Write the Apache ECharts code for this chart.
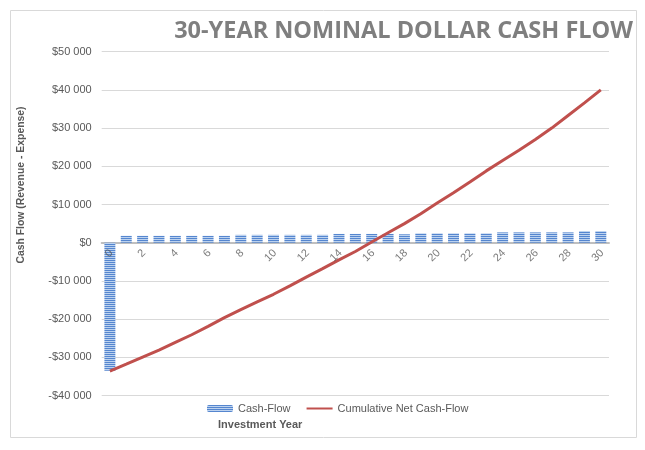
<!DOCTYPE html>
<html><head><meta charset="utf-8">
<script src="https://cdn.jsdelivr.net/npm/echarts@6/dist/echarts.min.js"></script>
<style>html,body{margin:0;padding:0;background:#fff}#c{width:645px;height:450px}</style>
</head><body><div id="c"></div>
<script>
const years = ["0","1","2","3","4","5","6","7","8","9","10","11","12","13","14","15","16","17","18","19","20","21","22","23","24","25","26","27","28","29","30"];
const cashFlow = [-33500,1800,1800,1800,1800,1800,1800,1800,2050,2050,2050,2050,2050,2050,2300,2300,2300,2300,2200,2450,2450,2450,2450,2450,2700,2700,2700,2700,2700,3050,3050];
const cumulative = [-33600,-31800,-29950,-28100,-26100,-24100,-21900,-19600,-17500,-15500,-13500,-11300,-9000,-6800,-4500,-2300,200,2600,5000,7600,10400,13100,15900,18800,21500,24200,27000,30000,33300,36600,40000];
const xTickLabels = ["0","2","4","6","8","10","12","14","16","18","20","22","24","26","28","30"];
const yTicks = {min:-40000, max:50000, step:10000};

const pat = document.createElement('canvas');
pat.width = 4; pat.height = 2;
const pc = pat.getContext('2d');
pc.fillStyle = '#bcd2ef'; pc.fillRect(0,0,4,2);
pc.fillStyle = '#5586cf'; pc.fillRect(0,0,4,1);

function fmt(v){
  const a = Math.abs(v);
  let s = String(a);
  if (a >= 1000) s = Math.floor(a/1000) + ' ' + String(a%1000).padStart(3,'0');
  return (v<0?'-':'') + '$' + s;
}
const F = 'Liberation Sans, Arial, sans-serif';
const chart = echarts.init(document.getElementById('c'), null, {renderer:'canvas'});
chart.setOption({
  animation:false,
  textStyle:{fontFamily:F},
  grid:{left:101.7, right:36, top:51.7, bottom:54.5},
  graphic:[
    {type:'rect', shape:{x:10.5,y:10.5,width:626,height:427}, style:{fill:'none',stroke:'#d9d9d9',lineWidth:1}, z:-1},
    {type:'text', x:633, y:31, style:{text:'30-YEAR NOMINAL DOLLAR CASH FLOW', fill:'#7f7f7f', font:'bold 23.5px "Open Sans", sans-serif', align:'right', verticalAlign:'middle'}},
    {type:'text', x:218, y:425, style:{text:'Investment Year', fill:'#595959', font:'bold 11px '+F, align:'left', verticalAlign:'middle'}},
    {type:'text', x:21, y:185, rotation:Math.PI/2, style:{text:'Cash Flow (Revenue - Expense)', fill:'#595959', font:'bold 10.4px '+F, align:'center', verticalAlign:'middle'}}
  ],
  legend:{
    left:207, top:403, padding:0, itemWidth:26, itemHeight:7, itemGap:15,
    textStyle:{color:'#595959', fontSize:11, fontFamily:F},
    data:[{name:'Cash-Flow'},{name:'Cumulative Net Cash-Flow', itemStyle:{color:'rgba(0,0,0,0)', borderColor:'rgba(0,0,0,0)', borderWidth:0}}]
  },
  xAxis:{
    type:'category', data:years,
    axisLine:{onZero:true, lineStyle:{color:'#bfbfbf', width:2}},
    axisTick:{show:false},
    axisLabel:{show:false}
  },
  yAxis:{
    type:'value', min:yTicks.min, max:yTicks.max, interval:yTicks.step,
    axisLine:{show:false}, axisTick:{show:false},
    splitLine:{lineStyle:{color:'#d9d9d9', width:1}},
    axisLabel:{formatter:fmt, color:'#595959', fontSize:11, margin:10, fontFamily:F}
  },
  series:[
    {name:'Cash-Flow', type:'bar', data:cashFlow, barWidth:'67%',
      itemStyle:{color:{image:pat, repeat:'repeat'}}},
    {name:'Cumulative Net Cash-Flow', type:'line', data:cumulative, symbol:'none',
      lineStyle:{color:'#c0504d', width:3}, itemStyle:{color:'#c0504d'}},
    {name:'xlabels', type:'scatter', data:xTickLabels.map(t=>[t,0]), symbolSize:0, silent:true, z:5,
      label:{show:true, position:'bottom', distance:10, rotate:45, align:'right', verticalAlign:'middle', offset:[2,0],
        formatter:p=>p.value[0], color:'#595959', fontSize:11, fontFamily:F}}
  ]
});
</script></body></html>
